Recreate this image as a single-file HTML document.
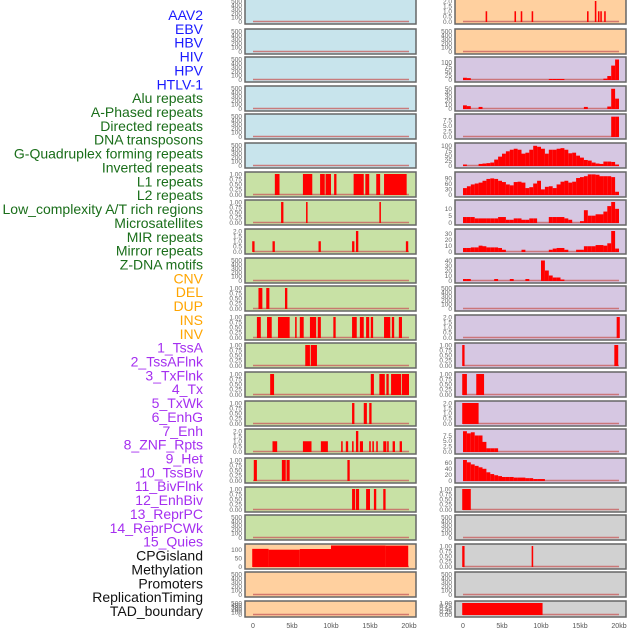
<!DOCTYPE html>
<html><head><meta charset="utf-8">
<style>
html,body{margin:0;padding:0;background:#fff;}
svg{display:block;font-family:"Liberation Sans",sans-serif;}
</style></head>
<body>
<svg id="chart" width="630" height="630" viewBox="0 0 630 630"></svg>
<script>
// ---- data ----
const trackLabels = ["AAV2","EBV","HBV","HIV","HPV","HTLV-1","Alu repeats","A-Phased repeats","Directed repeats","DNA transposons","G-Quadruplex forming repeats","Inverted repeats","L1 repeats","L2 repeats","Low_complexity A/T rich regions","Microsatellites","MIR repeats","Mirror repeats","Z-DNA motifs","CNV","DEL","DUP","INS","INV","1_TssA","2_TssAFlnk","3_TxFlnk","4_Tx","5_TxWk","6_EnhG","7_Enh","8_ZNF_Rpts","9_Het","10_TssBiv","11_BivFlnk","12_EnhBiv","13_ReprPC","14_ReprPCWk","15_Quies","CPGisland","Methylation","Promoters","ReplicationTiming","TAD_boundary"];
const xTickValues = [0,5,10,15,20];
const xTickLabels = ["0","5kb","10kb","15kb","20kb"];
const ticksEmpty = [0,100,200,300,400,500];
const ticksUnit = [0,0.25,0.5,0.75,1];
const ticksTwo = [0,0.5,1,1.5,2];

// left column panels (intervals [startKb,endKb,value])
const l6Bars = [[2.8,3.4,1],[6.4,7.6,1],[8.6,9.2,1],[9.3,10.0,1],[10.4,10.7,1],[12.9,14.2,1],[14.4,14.9,1],[15.8,16.3,1],[16.8,19.7,1]];
const l7Bars = [[3.6,3.9,1],[6.8,7.0,1],[16.2,16.4,1]];
const l8Bars = [[-0.1,0.2,1],[2.5,2.8,1],[8.4,8.7,1],[12.7,13.0,1],[13.2,13.5,2],[19.6,19.9,1]];
const l10Bars = [[0.7,1.2,1],[1.7,2.1,1],[4.1,4.4,1]];
const l11Bars = [[0.5,1.0,1],[1.8,2.4,1],[3.2,4.7,1],[5.4,5.6,1],[6.0,6.5,1],[7.3,8.1,1],[8.3,8.7,1],[10.3,10.6,1],[12.7,13.3,1],[13.7,14.2,1],[14.5,14.9,1],[15.1,15.4,1],[16.8,17.6,1],[17.8,18.1,1],[18.7,19.1,1]];
const l12Bars = [[6.7,7.3,1],[7.4,8.2,1]];
const l13Bars = [[2.2,2.7,1],[15.1,15.5,1],[16.2,16.9,1],[17.1,17.4,1],[17.7,19.0,1],[19.1,20.0,1]];
const l14Bars = [[12.7,13.0,1],[14.2,14.6,1],[14.9,15.2,1]];
const l15Bars = [[2.5,3.1,1],[6.4,7.5,1],[8.7,9.6,1],[11.3,11.5,1],[11.9,12.2,1],[12.7,12.9,1],[13.2,13.5,2],[13.7,14.1,1],[14.9,15.1,1],[15.3,15.5,1],[15.8,16.0,1],[16.7,17.1,1],[17.2,17.4,1],[17.9,18.2,1],[18.8,19.1,1]];
const l16Bars = [[0.1,0.5,1],[3.7,4.2,1],[4.3,4.7,1],[12.1,12.4,1]];
const l17Bars = [[12.7,13.1,1],[13.2,13.6,1],[14.5,15.0,1],[15.5,15.8,1],[16.7,17.0,1]];
const l19Bars = [[-0.1,2,105],[2,6,100],[6,10,104],[10,17,125],[17,19.9,124]];

// right column panels
const r0Bars = [[2.9,3.1,1],[6.6,6.8,1],[7.4,7.6,1],[8.8,9.0,1],[15.9,16.1,1],[16.9,17.1,2],[17.3,17.5,1],[17.6,17.8,1],[18.1,18.3,1]];
const r2Bins = [10,8,0,0,0,0,0,0,0,0,0,0,0,0,0,0,0,0,0,0,0,0,3,3,3,3,0,0,0,0,0,0,0,0,0,0,5,20,80,115];
const r3Bins = [8,6,0,0,4,0,0,0,0,0,0,0,0,0,0,0,0,0,0,0,0,0,0,0,0,0,0,0,0,0,0,4,0,0,0,0,0,5,50,25];
const r4Bins = [0,0,0,0,0,0,0,0,0,0,0,0,0,0,0,0,0,0,0,0,0,0,0,0,0,0,0,0,0,0,0,0,0,0,0,0,0,0,9,9];
const r5Bins = [5,0,0,0,8,10,12,15,30,45,60,72,80,85,80,60,65,80,100,95,85,60,80,80,85,88,80,62,65,50,40,28,25,15,10,8,20,20,18,5];
const r6Bins = [35,45,55,60,65,75,85,88,85,75,68,55,50,68,70,65,35,40,60,75,28,42,45,35,55,70,75,65,70,90,95,100,110,110,108,100,100,100,95,15];
const r7Bins = [4,4,4,3,3,3,3,3,3,4,4,2,2,3,3,2,2,3,3,0,0,0,4,4,4,4,3,2,0,0,1,9,5,5,6,6,8,12,15,10];
const r8Bins = [6,6,7,7,10,9,7,7,7,6,3,0,0,0,0,3,0,0,0,0,0,0,3,5,6,6,3,0,0,3,3,9,9,9,11,11,10,14,35,5];
const r9Bins = [3,3,0,0,0,0,0,0,3,0,0,0,3,0,0,0,3,0,0,0,40,20,10,6,6,2,0,0,0,0,0,0,0,0,0,0,0,0,0,0];
const r11Bars = [[19.7,20.1,2]];
const r12Bars = [[-0.1,0.2,1],[19.4,19.9,1]];
const r13Bars = [[-0.1,0.5,1],[1.7,2.7,1]];
const r14Bars = [[-0.1,2.0,2]];
const r15Bins = [9.5,8.5,9,7.5,7.5,4.5,1.5,1.5,1.5,0,0,0,0,0,0,0,0,0,0,0,0,0,0,0,0,0,0,0,0,0,0,0,0,0,0,0,0,0,0,0];
const r16Bins = [70,62,55,50,45,40,28,22,18,15,12,12,12,10,10,10,8,8,5,5,5,0,0,0,0,0,0,0,0,0,0,0,0,0,0,0,0,0,0,0];
const r17Bars = [[-0.1,1.0,1]];
const r19Bars = [[-0.1,0.2,1],[8.8,9.0,1]];
const r21Bars = [[-0.1,10.2,1]];

// ---- layout ----
const svg = document.getElementById('chart');
const NS = 'http://www.w3.org/2000/svg';
function mk(tag, attrs, parent){const e=document.createElementNS(NS,tag);for(const k in attrs)e.setAttribute(k,attrs[k]);(parent||svg).appendChild(e);return e;}
function binsToBars(b){return b.map((v,i)=>[i*0.5,i*0.5+0.5,v]).filter(d=>d[2]>0);}

const empty = {ticks:ticksEmpty, max:500, bars:[]};
const leftPanels = [empty,empty,empty,empty,empty,empty,
 {ticks:ticksUnit,max:1,bars:l6Bars},{ticks:ticksUnit,max:1,bars:l7Bars},{ticks:ticksTwo,max:2,bars:l8Bars},
 empty,{ticks:ticksUnit,max:1,bars:l10Bars},{ticks:ticksUnit,max:1,bars:l11Bars},{ticks:ticksUnit,max:1,bars:l12Bars},
 {ticks:ticksUnit,max:1,bars:l13Bars},{ticks:ticksUnit,max:1,bars:l14Bars},{ticks:ticksTwo,max:2,bars:l15Bars},
 {ticks:ticksUnit,max:1,bars:l16Bars},{ticks:ticksUnit,max:1,bars:l17Bars},empty,
 {ticks:[0,50,100],max:122,bars:l19Bars},empty,empty];
const rightPanels = [
 {ticks:ticksTwo,max:2,bars:r0Bars},empty,
 {ticks:[0,25,50,75,100],max:118,bars:binsToBars(r2Bins)},
 {ticks:[0,10,20,30,40,50],max:52,bars:binsToBars(r3Bins)},
 {ticks:[0,2.5,5,7.5],max:9.3,bars:binsToBars(r4Bins)},
 {ticks:[0,25,50,75,100],max:104,bars:binsToBars(r5Bins)},
 {ticks:[0,30,60,90],max:112,bars:binsToBars(r6Bins)},
 {ticks:[0,5,10],max:15,bars:binsToBars(r7Bins)},
 {ticks:[0,10,20,30],max:35,bars:binsToBars(r8Bins)},
 {ticks:[0,10,20,30,40],max:41,bars:binsToBars(r9Bins)},
 empty,{ticks:ticksTwo,max:2,bars:r11Bars},{ticks:ticksUnit,max:1,bars:r12Bars},{ticks:ticksUnit,max:1,bars:r13Bars},
 {ticks:ticksTwo,max:2,bars:r14Bars},
 {ticks:[0,2.5,5,7.5],max:9.6,bars:binsToBars(r15Bins)},
 {ticks:[0,20,40,60],max:70,bars:binsToBars(r16Bins)},
 {ticks:ticksUnit,max:1,bars:r17Bars},empty,{ticks:ticksUnit,max:1,bars:r19Bars},empty,{ticks:ticksUnit,max:1,bars:r21Bars}];

function bgFor(i){ if(i<6)return '#c8e4ec'; if(i<19)return '#c8e1a5'; if(i<24)return '#ffd09f'; if(i<39)return '#d6c7e2'; return '#d1d1d1'; }
function colFor(i){ if(i<6)return '#1a1aff'; if(i<19)return '#1a6e1a'; if(i<24)return '#ffa500'; if(i<39)return '#a52ff0'; return '#111'; }

// labels
trackLabels.forEach((t,i)=>{
  const e=mk('text',{x:203,y:15+i*13.86+5,'text-anchor':'end','font-size':'14',fill:colFor(i)});
  e.textContent=t;
  
  
});

function rowTop(r){return r===0?-1:Math.round(r*28.62);}
function drawPanel(p, px, r, idx){
  const top=rowTop(r), bottom = r===21?617:rowTop(r)+25;
  const g=mk('g',{});
  
  
  mk('rect',{x:px,y:top,width:171,height:bottom-top,fill:bgFor(idx)},g);
  const xs=kb=>px+8+kb*7.8;
  const y0=bottom-2.5, y1=top+2;
  const ys=v=>y0-(v/p.max)*(y0-y1);
  mk('line',{x1:xs(0),x2:xs(20),y1:y0,y2:y0,stroke:'#c86060','stroke-width':1.5,'stroke-opacity':0.8},g);
  p.bars.forEach(b=>{
    const yt=Math.max(ys(b[2]),top+0.5);
    const bar=mk('rect',{x:xs(b[0]),y:yt,width:Math.max(xs(b[1])-xs(b[0]),1),height:y0-yt+0.5,fill:'#ff0000'},g);
    
    
  });
  mk('rect',{x:px,y:top,width:171,height:bottom-top,fill:'none',stroke:'#666','stroke-width':1.5},g);
  p.ticks.forEach(t=>{
    const y=ys(t);
    const tx=mk('text',{x:px-3,y:y+2.3,'text-anchor':'end','font-size':'6.5',fill:'#666'},g);
    tx.textContent = (p.ticks===ticksUnit)? t.toFixed(2) : (p.ticks===ticksTwo||p.ticks[1]===2.5)? t.toFixed(1): String(t);
  });
}
leftPanels.forEach((p,r)=>drawPanel(p,245,r,r));
rightPanels.forEach((p,r)=>drawPanel(p,455,r,r+22));

// x axes
[245,455].forEach((px,c)=>{
  const g=mk('g',{});
  
  
  xTickValues.forEach((v,i)=>{
    const t=mk('text',{x:px+8+v*7.8,y:628,'text-anchor':'middle','font-size':'7',fill:'#555'},g);
    t.textContent=xTickLabels[i];
  });
});
</script>
</body></html>
